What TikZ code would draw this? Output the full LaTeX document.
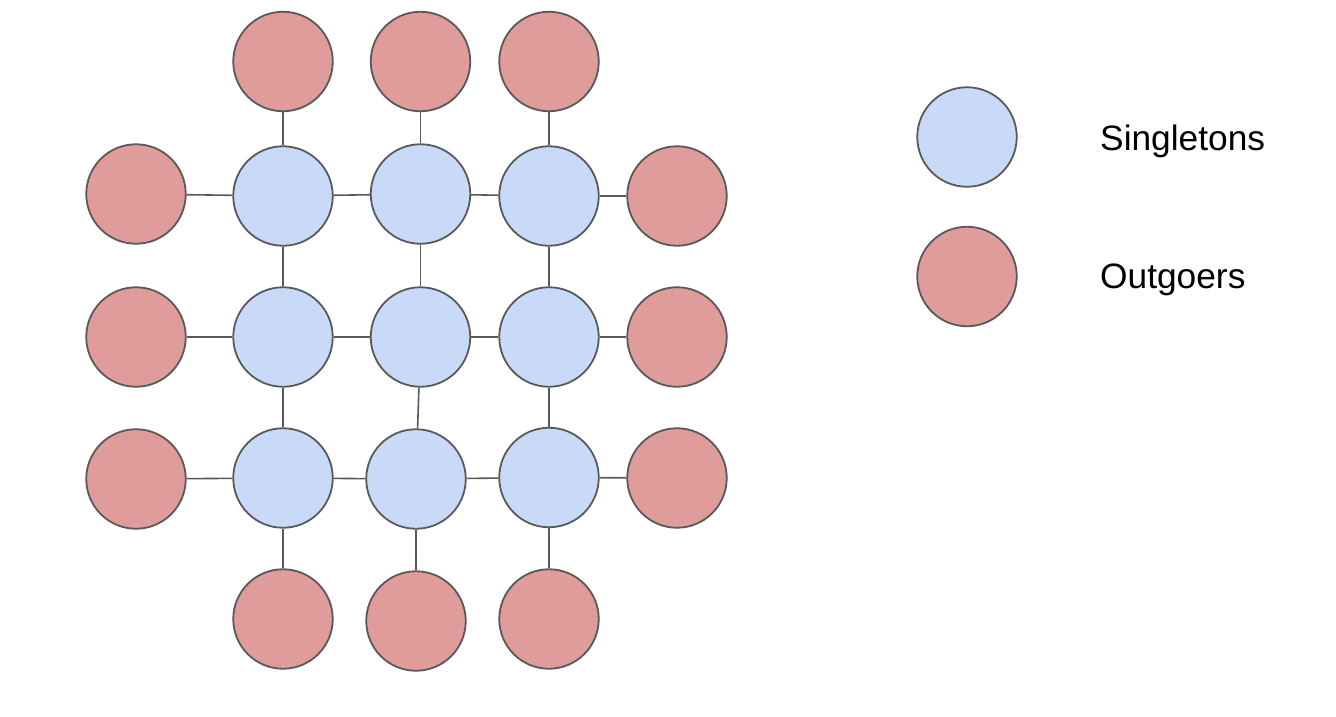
\documentclass[tikz,border=0pt]{standalone}
\usepackage{fontspec}
\setmainfont{Liberation Sans}
\definecolor{singc}{HTML}{C9DAF8}
\definecolor{outc}{HTML}{E09C9A}
\definecolor{strokec}{HTML}{595959}
\begin{document}
\begin{tikzpicture}[x=1pt,y=-1pt,
  base/.style={circle,draw=strokec,line width=1.8pt,minimum size=99.5pt,inner sep=0pt},
  sing/.style={base,fill=singc},
  outg/.style={base,fill=outc},
  conn/.style={draw=strokec,line width=1.6pt},
  lbl/.style={anchor=base west,inner sep=0pt,font=\fontsize{35.3}{42}\selectfont}]
\useasboundingbox (0,0) rectangle (1336,716);
% top reds
\node[outg] (t1) at (283,61.5) {};
\node[outg] (t2) at (420.5,61.5) {};
\node[outg] (t3) at (549,61.5) {};
% row 1
\node[outg] (l1) at (136,194) {};
\node[sing] (a1) at (283,196) {};
\node[sing] (a2) at (420.5,194) {};
\node[sing] (a3) at (549,196) {};
\node[outg] (r1) at (677,196) {};
% row 2
\node[outg] (l2) at (136,337) {};
\node[sing] (b1) at (283,337) {};
\node[sing] (b2) at (420.5,337) {};
\node[sing] (b3) at (549,337) {};
\node[outg] (r2) at (677,337) {};
% row 3
\node[outg] (l3) at (136,479) {};
\node[sing] (c1) at (283,478) {};
\node[sing] (c2) at (416,479) {};
\node[sing] (c3) at (549,477.5) {};
\node[outg] (r3) at (677,478) {};
% bottom reds
\node[outg] (d1) at (283,619) {};
\node[outg] (d2) at (416,621) {};
\node[outg] (d3) at (549,619) {};
% connectors
\draw[conn] (t1) -- (a1);
\draw[conn] (t2) -- (a2);
\draw[conn] (t3) -- (a3);
\draw[conn] (l1) -- (a1);
\draw[conn] (a1) -- (a2);
\draw[conn] (a2) -- (a3);
\draw[conn] (a3) -- (r1);
\draw[conn] (a1) -- (b1);
\draw[conn] (a2) -- (b2);
\draw[conn] (a3) -- (b3);
\draw[conn] (l2) -- (b1);
\draw[conn] (b1) -- (b2);
\draw[conn] (b2) -- (b3);
\draw[conn] (b3) -- (r2);
\draw[conn] (b1) -- (c1);
\draw[conn] (b2) -- (c2);
\draw[conn] (b3) -- (c3);
\draw[conn] (l3) -- (c1);
\draw[conn] (c1) -- (c2);
\draw[conn] (c2) -- (c3);
\draw[conn] (c3) -- (r3);
\draw[conn] (c1) -- (d1);
\draw[conn] (c2) -- (d2);
\draw[conn] (c3) -- (d3);
% legend
\node[sing] (ls) at (967,137) {};
\node[outg] (lo) at (967,276.5) {};
\node[lbl] (ts) at (1100,150) {Singletons};
\node[lbl] (to) at (1100,288) {Outgoers};
\end{tikzpicture}
\end{document}
